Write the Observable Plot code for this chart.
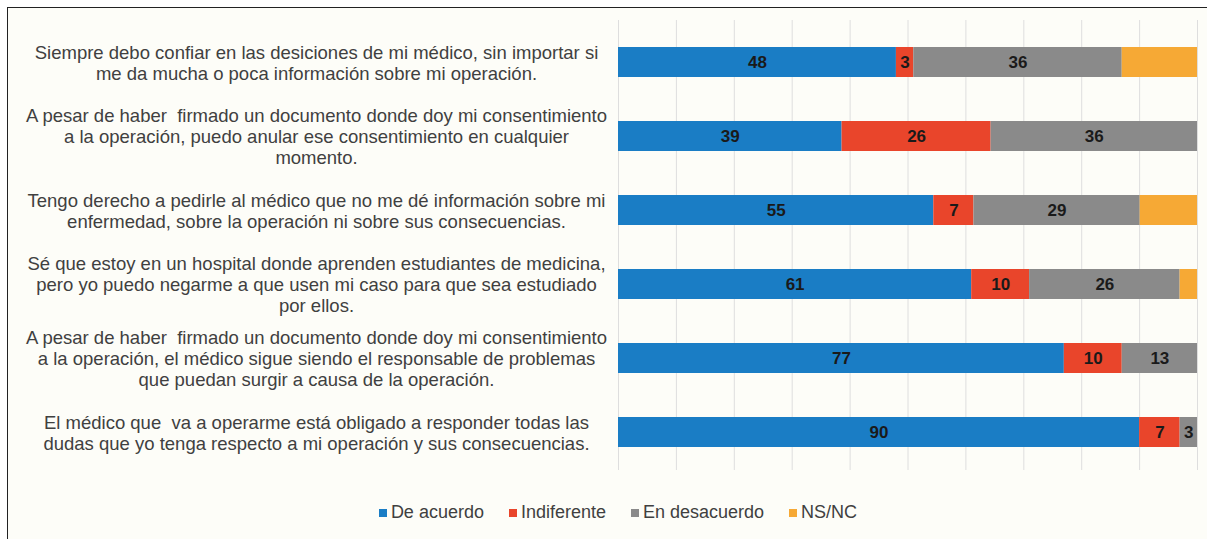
<!DOCTYPE html>
<html>
<head>
<meta charset="utf-8">
<script src="https://cdn.jsdelivr.net/npm/d3@7"></script>
<script src="https://cdn.jsdelivr.net/npm/@observablehq/plot@0.6"></script>
<style>
  html, body { margin: 0; padding: 0; background: #ffffff; }
  #frame {
    position: absolute; left: 7px; top: 7px;
    width: 1200px; height: 540px;
    border-left: 1px solid #222; border-top: 1px solid #222;
    background: #fdfdf8;
    font-family: "Liberation Sans", Arial, sans-serif;
  }
  #legend {
    display: flex; justify-content: center; gap: 25px;
    margin-top: 24px; margin-left: 20px;
    font-size: 18px; color: #404040;
  }
  #legend .item { display: flex; align-items: center; gap: 4px; }
  #legend .sw { width: 8px; height: 8px; display: inline-block; }
</style>
</head>
<body>
<div id="frame">
  <div id="chart"></div>
  <div id="legend"></div>
</div>
<script>
const categories = [
  "Siempre debo confiar en las desiciones de mi médico, sin importar si\nme da mucha o poca información sobre mi operación.",
  "A pesar de haber  firmado un documento donde doy mi consentimiento\na la operación, puedo anular ese consentimiento en cualquier\nmomento.",
  "Tengo derecho a pedirle al médico que no me dé información sobre mi\nenfermedad, sobre la operación ni sobre sus consecuencias.",
  "Sé que estoy en un hospital donde aprenden estudiantes de medicina,\npero yo puedo negarme a que usen mi caso para que sea estudiado\npor ellos.",
  "A pesar de haber  firmado un documento donde doy mi consentimiento\na la operación, el médico sigue siendo el responsable de problemas\nque puedan surgir a causa de la operación.",
  "El médico que  va a operarme está obligado a responder todas las\ndudas que yo tenga respecto a mi operación y sus consecuencias."
];
const seriesNames = ["De acuerdo", "Indiferente", "En desacuerdo", "NS/NC"];
const deAcuerdo    = [48, 39, 55, 61, 77, 90];
const indiferente  = [3, 26, 7, 10, 10, 7];
const enDesacuerdo = [36, 36, 29, 26, 13, 3];
const nsnc         = [13, 0, 10, 3, 0, 0];
const colors = ["#1a7dc5", "#e9452b", "#8a8a8a", "#f6a935"];
const xTicks = [0, 0.1, 0.2, 0.3, 0.4, 0.5, 0.6, 0.7, 0.8, 0.9, 1];

const seriesValues = [deAcuerdo, indiferente, enDesacuerdo, nsnc];
const table = [];
categories.forEach((c, i) => {
  seriesNames.forEach((s, j) => {
    const v = seriesValues[j][i];
    if (v > 0) table.push({category: c, series: s, value: v});
  });
});

const chart = Plot.plot({
  width: 1199,
  height: 470,
  marginLeft: 610,
  marginRight: 10,
  marginTop: 12,
  marginBottom: 8,
  style: {background: "transparent", fontFamily: "'Liberation Sans', Arial, sans-serif"},
  x: {domain: [0, 1], axis: null},
  y: {domain: categories, range: [16, 462], paddingInner: 0.6, paddingOuter: 0.3, axis: null},
  color: {domain: seriesNames, range: colors},
  marks: [
    Plot.ruleX(xTicks, {stroke: "#dedede", strokeWidth: 1}),
    Plot.barX(table, Plot.stackX({
      x: "value", y: "category", z: "series", fill: "series", offset: "normalize", order: seriesNames
    })),
    Plot.text(table, Plot.stackX({
      x: "value", y: "category", z: "series", offset: "normalize", order: seriesNames,
      text: d => d.series === "NS/NC" ? "" : String(d.value),
      fill: "#1a1a1a", fontWeight: "bold", fontSize: 17,
      fontFamily: "'Liberation Sans Narrow', 'Liberation Sans', Arial, sans-serif"
    })),
    Plot.text(categories, {
      y: d => d, text: d => d, frameAnchor: "left", dx: -302,
      textAnchor: "middle", fontSize: 18.5, lineHeight: 1.12, fill: "#404040"
    })
  ]
});
document.getElementById("chart").appendChild(chart);

const legend = document.getElementById("legend");
seriesNames.forEach((s, i) => {
  const item = document.createElement("div");
  item.className = "item";
  const sw = document.createElement("span");
  sw.className = "sw";
  sw.style.background = colors[i];
  const t = document.createElement("span");
  t.textContent = s;
  item.appendChild(sw);
  item.appendChild(t);
  legend.appendChild(item);
});
</script>
</body>
</html>
